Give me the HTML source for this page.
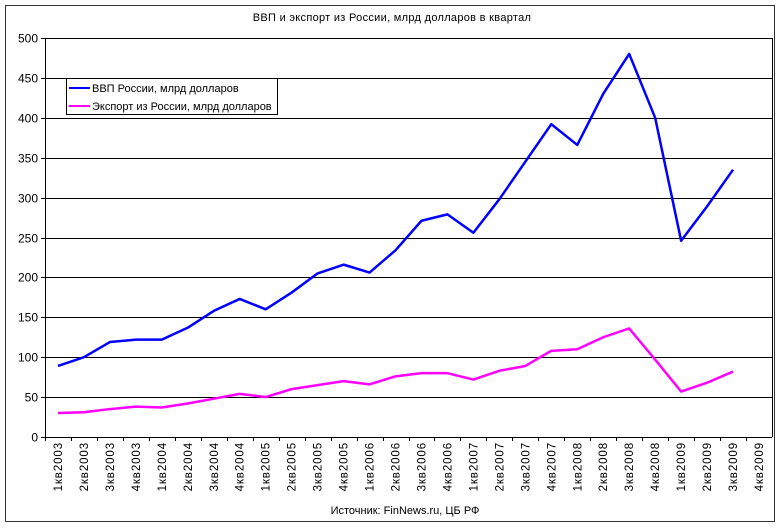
<!DOCTYPE html>
<html><head><meta charset="utf-8"><style>
body{margin:0;background:#fff;font-family:"Liberation Sans",sans-serif}
svg text{font-family:"Liberation Sans",sans-serif}
</style></head><body>
<svg id="c" width="780" height="526" xmlns="http://www.w3.org/2000/svg">
<rect x="5.5" y="5.5" width="769" height="516" fill="#fff" stroke="#333"/>
<text x="392" y="21" font-size="11" letter-spacing="0.3" text-anchor="middle">ВВП и экспорт из России, млрд долларов в квартал</text>
<g id="grid"></g><g id="xax"></g><g id="lines"></g>
<g>
<rect x="66.5" y="78.5" width="211" height="36" fill="#fff" stroke="#000"/>
<line x1="69" y1="88" x2="90" y2="88" stroke="#0000ff" stroke-width="2"/>
<text x="92" y="92" font-size="11">ВВП России, млрд долларов</text>
<line x1="69" y1="106" x2="90" y2="106" stroke="#ff00ff" stroke-width="2"/>
<text x="92" y="110" font-size="11">Экспорт из России, млрд долларов</text>
</g>
<text x="405" y="514" font-size="11" text-anchor="middle">Источник: FinNews.ru, ЦБ РФ</text>
</svg>
<script>
const categories=["1кв2003","2кв2003","3кв2003","4кв2003","1кв2004","2кв2004","3кв2004","4кв2004","1кв2005","2кв2005","3кв2005","4кв2005","1кв2006","2кв2006","3кв2006","4кв2006","1кв2007","2кв2007","3кв2007","4кв2007","1кв2008","2кв2008","3кв2008","4кв2008","1кв2009","2кв2009","3кв2009","4кв2009"];
const gdp=[89,100,119,122,122,137,158,173,160,181,205,216,206,234,271,279,256,298,345,392,366,430,480,400,246,289,335];
const exports=[30,31,35,38,37,42,48,54,50,60,65,70,66,76,80,80,72,83,89,108,110,125,136,97,57,68,82];
const yTicks=[0,50,100,150,200,250,300,350,400,450,500];
const L=45,R=772,T=38,B=437,NS="http://www.w3.org/2000/svg";
const bw=(R-L)/categories.length;
const x=i=>L+bw*(i+0.5);
const y=v=>B-(v/500)*(B-T);
function mk(t,a,p){const e=document.createElementNS(NS,t);for(const k in a)e.setAttribute(k,a[k]);p.appendChild(e);return e;}
const grid=document.getElementById('grid'),xax=document.getElementById('xax'),lines=document.getElementById('lines');
yTicks.forEach(v=>{
 const yy=Math.round(y(v))+0.5;
 if(v>0){const g=mk('line',{x1:L,x2:R,y1:yy,y2:yy,stroke:'#000','stroke-width':1},grid);
 
 }
 mk('line',{x1:L-4,x2:L,y1:yy,y2:yy,stroke:'#000'},grid);
 const t=mk('text',{x:L-7,y:yy+4,'font-size':12,'text-anchor':'end'},grid);t.textContent=v;
 
 
});
mk('line',{x1:R+0.5,x2:R+0.5,y1:T,y2:B,stroke:'#000'},grid);
mk('line',{x1:L+0.5,x2:L+0.5,y1:T,y2:B+4,stroke:'#000'},grid);
mk('line',{x1:L,x2:R,y1:B+0.5,y2:B+0.5,stroke:'#000'},grid);
categories.forEach((c,i)=>{
 const tx=Math.round(L+bw*i)+0.5;
 mk('line',{x1:tx,x2:tx,y1:B,y2:B+4,stroke:'#000'},xax);
 const cx=x(i);
 const t=mk('text',{x:0,y:0,'font-size':11.5,'letter-spacing':'0.9','text-anchor':'end',transform:`translate(${cx+4},${B+5}) rotate(-90)`},xax);
 t.textContent=c;
 
 
});
function line(arr,col,name){
 const p=mk('polyline',{points:arr.map((v,i)=>x(i)+','+y(v)).join(' '),fill:'none',stroke:col,'stroke-width':2.5,'stroke-linejoin':'round'},lines);
 
 
}
line(exports,'#ff00ff','exports-line');
line(gdp,'#0000ff','gdp-line');
</script>
</body></html>
